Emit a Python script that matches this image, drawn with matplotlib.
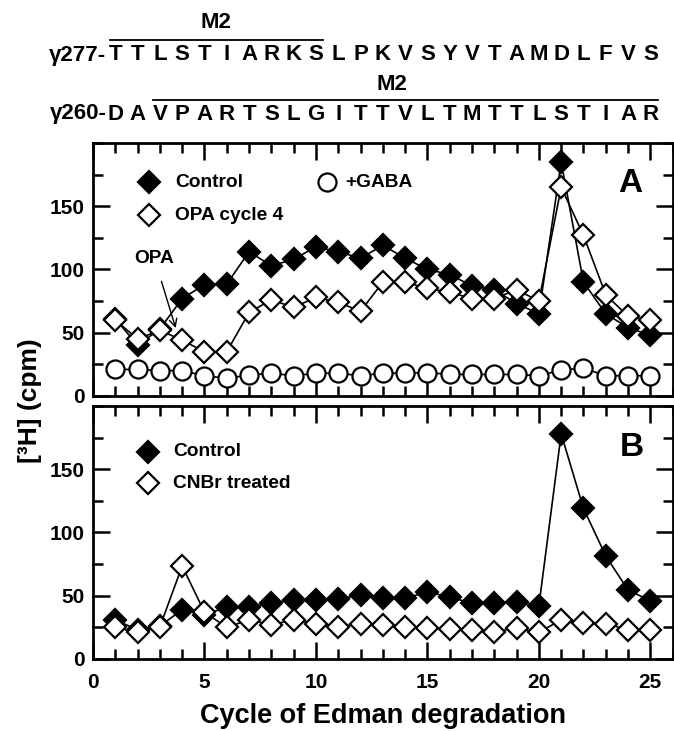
import matplotlib
matplotlib.use('Agg')
import matplotlib.pyplot as plt
from matplotlib.ticker import MultipleLocator
from matplotlib.transforms import blended_transform_factory

# ---- data ----
cycles = list(range(1, 26))
a_control = [61, 40, 53, 77, 88, 88.5, 114, 103, 108, 118, 114, 109, 119, 109, 100, 96, 87, 84, 73, 65, 185, 90, 65, 54, 48]
a_opa = [60, 45, 52, 44, 35, 35, 66, 76, 70, 78, 74, 67, 90, 90, 85, 82, 77, 77, 84, 75, 165, 127, 80, 63, 60]
a_gaba = [21, 21, 20, 20, 16, 14, 16.5, 18, 16, 18, 18, 16, 18, 18, 18.5, 17, 17, 17, 17, 16, 20.5, 22, 16, 16, 16]
b_control = [31, 23, 26, 39, 35, 41, 41, 44, 47, 47, 47.5, 50.5, 48, 48, 53, 49, 44, 44.5, 45, 42, 178, 119, 81.5, 54.5, 46]
b_cnbr = [25, 21, 25.5, 73.5, 37, 25, 31, 27, 31, 28, 25.5, 28, 27, 25.5, 24.5, 23.5, 23, 21.5, 24.5, 21, 31, 28.5, 28, 23, 23]

seq1_label = "γ277-"
seq1 = list("TTLSTIARKSLPKVSYVTAMDLFVS")
seq2_label = "γ260-"
seq2 = list("DAVPARTSLGITTVLTMTTLSTIAR")
m2_span1 = (0.75, 10.3)
m2_span2 = (2.68, 25.36)

xticks = [0, 5, 10, 15, 20, 25]
yticks = [0, 50, 100, 150]

plt.rcParams['font.family'] = ['Liberation Sans', 'DejaVu Sans']
plt.rcParams['font.weight'] = 'bold'

fig = plt.figure(figsize=(6.74, 7.31), dpi=100)
axA = fig.add_axes([0.138, 0.4583, 0.86, 0.3461])
axB = fig.add_axes([0.138, 0.0985, 0.86, 0.3461])

for ax in (axA, axB):
    ax.set_xlim(0, 26)
    ax.set_ylim(0, 200)
    ax.set_xticks(xticks)
    ax.set_yticks(yticks)
    ax.xaxis.set_minor_locator(MultipleLocator(1))
    ax.yaxis.set_minor_locator(MultipleLocator(25))
    ax.tick_params(which='both', direction='in', top=True, right=True, width=1.8,
                   labelsize=15)
    ax.tick_params(axis='y', pad=6)
    ax.tick_params(axis='x', pad=10)
    ax.tick_params(which='major', length=12)
    ax.tick_params(which='minor', length=7)
    for s in ax.spines.values():
        s.set_linewidth(2.0)
    for lab in ax.get_xticklabels() + ax.get_yticklabels():
        lab.set_fontweight('bold')

axA.tick_params(labelbottom=False)

ms_d = 11
mew = 1.6
lw = 1.2
fs_leg = 13.8

# Panel A
axA.plot(cycles, a_gaba, '-o', color='k', mfc='white', mec='k', ms=13, mew=mew, lw=lw, zorder=2)
axA.plot(cycles, a_control, '-D', color='k', mfc='k', mec='k', ms=ms_d, mew=mew, lw=lw, zorder=3)
axA.plot(cycles, a_opa, '-D', color='k', mfc='white', mec='k', ms=ms_d, mew=mew, lw=lw, zorder=4)

# legend A (manual)
axA.plot([2.5], [169], 'D', color='k', ms=ms_d, mew=mew)
axA.text(3.7, 169, 'Control', fontsize=fs_leg, fontweight='bold', va='center')
axA.plot([2.5], [143], 'D', mfc='white', mec='k', ms=ms_d, mew=mew)
axA.text(3.7, 143, 'OPA cycle 4', fontsize=fs_leg, fontweight='bold', va='center')
axA.plot([10.5], [169], 'o', mfc='white', mec='k', ms=13, mew=mew)
axA.text(11.3, 169, '+GABA', fontsize=fs_leg, fontweight='bold', va='center')
axA.text(24.1, 168, 'A', fontsize=24, fontweight='bold', ha='center', va='center')
axA.annotate('OPA', xy=(3.71, 53.7), xytext=(2.75, 109), fontsize=fs_leg, fontweight='bold',
             ha='center', va='center',
             arrowprops=dict(arrowstyle='->', color='k', lw=1.0, shrinkA=9, shrinkB=0))

# Panel B
axB.plot(cycles, b_control, '-D', color='k', mfc='k', mec='k', ms=ms_d, mew=mew, lw=lw, zorder=3)
axB.plot(cycles, b_cnbr, '-D', color='k', mfc='white', mec='k', ms=ms_d, mew=mew, lw=lw, zorder=4)
axB.plot([2.47], [164], 'D', color='k', ms=ms_d, mew=mew)
axB.text(3.6, 164, 'Control', fontsize=fs_leg, fontweight='bold', va='center')
axB.plot([2.47], [139], 'D', mfc='white', mec='k', ms=ms_d, mew=mew)
axB.text(3.6, 139, 'CNBr treated', fontsize=fs_leg, fontweight='bold', va='center')
axB.text(24.15, 167, 'B', fontsize=24, fontweight='bold', ha='center', va='center')

fig.text(0.568, 1 - 716 / 731, 'Cycle of Edman degradation', fontsize=19.5, fontweight='bold',
         ha='center', va='center')
fig.text(0.045, 0.452, '[³H] (cpm)', rotation=90, fontsize=19, fontweight='bold',
         ha='center', va='center')

# Sequences above panel A
tr = blended_transform_factory(axA.transData, fig.transFigure)
y_t1, y_b1, y_m1 = 1 - 55 / 731, 1 - 40 / 731, 1 - 23 / 731
y_t2, y_b2, y_m2 = 1 - 114 / 731, 1 - 100 / 731, 1 - 84 / 731
fs_seq = 16
axA.text(0.6, y_t1, seq1_label, transform=tr, fontsize=fs_seq, fontweight='bold', ha='right', va='center')
for c, ch in zip(cycles, seq1):
    axA.text(c, y_t1, ch, transform=tr, fontsize=fs_seq, fontweight='bold', ha='center', va='center')
axA.plot(m2_span1, [y_b1, y_b1], transform=tr, color='k', lw=1.3, clip_on=False)
axA.text(sum(m2_span1) / 2, y_m1, 'M2', transform=tr, fontsize=fs_seq, fontweight='bold', ha='center', va='center')

axA.text(0.6, y_t2, seq2_label, transform=tr, fontsize=fs_seq, fontweight='bold', ha='right', va='center')
for c, ch in zip(cycles, seq2):
    axA.text(c, y_t2, ch, transform=tr, fontsize=fs_seq, fontweight='bold', ha='center', va='center')
axA.plot(m2_span2, [y_b2, y_b2], transform=tr, color='k', lw=1.3, clip_on=False)
axA.text(13.4, y_m2, 'M2', transform=tr, fontsize=fs_seq, fontweight='bold', ha='center', va='center')

fig.savefig('out.png', dpi=100)
